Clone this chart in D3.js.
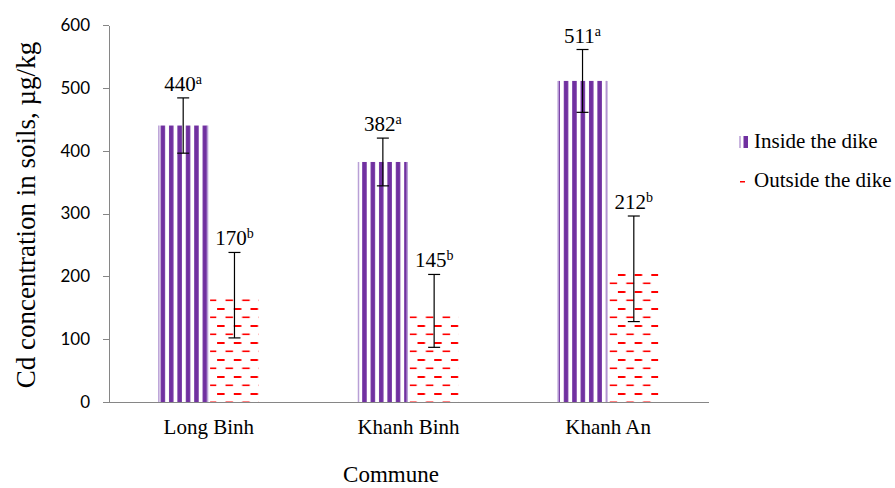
<!DOCTYPE html>
<html lang="en">
  <head>
    <meta charset="UTF-8" />
    <title>Cd concentration</title>
    <script src="https://d3js.org/d3.v7.min.js"></script>
    <style>
      body {
        margin: 0;
        background: #fff;
      }
      .serif {
        font-family: 'Liberation Serif', 'Times New Roman', serif;
        fill: #000;
      }
      .axis path,
      .axis line {
        stroke: #868686;
        shape-rendering: crispEdges;
      }
      .axis text {
        font-family: Lato, 'Open Sans', sans-serif;
        font-size: 17px;
        fill: #000;
      }
    </style>
  </head>
  <body></body>
  <script type="text/javascript">
    var width = 895,
      height = 488;

    // data
    var communes = ['Long Binh', 'Khanh Binh', 'Khanh An'];
    var seriesNames = ['Inside the dike', 'Outside the dike'];
    var insideValues = [440, 382, 511];
    var outsideValues = [170, 145, 212];
    var insideErrors = [44, 38, 50];
    var outsideErrors = [68, 58, 84];
    var insideLetters = ['a', 'a', 'a'];
    var outsideLetters = ['b', 'b', 'b'];
    var yTicks = [0, 100, 200, 300, 400, 500, 600];

    var rows = communes.map((c, i) => [
      { commune: c, series: 0, value: insideValues[i], err: insideErrors[i], letter: insideLetters[i] },
      { commune: c, series: 1, value: outsideValues[i], err: outsideErrors[i], letter: outsideLetters[i] }
    ]).flat();

    var plotLeft = 109,
      plotRight = 708,
      plotTop = 25,
      plotBottom = 402;

    var x = d3.scaleBand().domain(communes).range([plotLeft, plotRight]);
    var x1 = d3.scaleBand().domain([0, 1]).range([-50, 50]).paddingInner(0.05);
    var y = d3.scaleLinear().domain([0, 600]).range([plotBottom, plotTop]);

    var svg = d3
      .select('body')
      .append('svg')
      .attr('width', width)
      .attr('height', height);

    var defs = svg.append('defs');

    // wide vertical stripes
    var pIn = defs
      .append('pattern')
      .attr('id', 'inside')
      .attr('patternUnits', 'userSpaceOnUse')
      .attr('width', 8.4)
      .attr('height', 10);
    pIn.append('rect').attr('width', 8.4).attr('height', 10).attr('fill', '#fff');
    pIn.append('rect').attr('x', 1).attr('width', 4.5).attr('height', 10).attr('fill', '#7030A0');

    // dashed horizontal
    var pOut = defs
      .append('pattern')
      .attr('id', 'outside')
      .attr('patternUnits', 'userSpaceOnUse')
      .attr('width', 16.7)
      .attr('height', 17);
    pOut.append('rect').attr('width', 16.7).attr('height', 17).attr('fill', '#fff');
    pOut.append('rect').attr('x', 0).attr('y', 2).attr('width', 7.5).attr('height', 2).attr('fill', '#FF0000');
    pOut.append('rect').attr('x', 8.4).attr('y', 10.5).attr('width', 7.5).attr('height', 1.6).attr('fill', '#FF0000');

    // axes
    svg
      .append('g')
      .attr('class', 'axis')
      .attr('transform', `translate(${plotLeft},0)`)
      .call(d3.axisLeft(y).tickValues(yTicks).tickSize(6).tickPadding(13).tickSizeOuter(0));

    // bars
    var barX = d => x(d.commune) + x.bandwidth() / 2 + x1(d.series);

    svg
      .append('g')
      .selectAll('rect')
      .data(rows)
      .join('rect')
      .attr('x', barX)
      .attr('y', d => y(d.value))
      .attr('width', x1.bandwidth())
      .attr('height', d => y(0) - y(d.value))
      .attr('fill', d => (d.series === 0 ? 'url(#inside)' : 'url(#outside)'))
      .attr('stroke', d => (d.series === 0 ? '#b9a0d6' : 'none'))
      .attr('stroke-width', 1.5)
      .attr('stroke-dasharray', d => {
        var w = x1.bandwidth(),
          h = y(0) - y(d.value);
        return `0 ${w} ${h} ${w} ${h}`;
      });

    var xAxis = svg
      .append('g')
      .attr('class', 'axis')
      .attr('transform', `translate(0,${plotBottom})`)
      .call(d3.axisBottom(x).tickSize(0).tickPadding(0));
    xAxis.selectAll('text').remove();

    // category labels
    svg
      .append('g')
      .selectAll('text')
      .data(communes)
      .join('text')
      .attr('class', 'serif')
      .attr('x', d => x(d) + x.bandwidth() / 2)
      .attr('y', 434)
      .attr('text-anchor', 'middle')
      .style('font-size', '21px')
      .text(d => d);

    // error bars
    var cx = d => barX(d) + x1.bandwidth() / 2;
    var eb = svg.append('g').attr('stroke', '#000').attr('stroke-width', 1.2);
    eb.selectAll('line.v')
      .data(rows)
      .join('line')
      .attr('class', 'v')
      .attr('x1', cx)
      .attr('x2', cx)
      .attr('y1', d => y(d.value + d.err))
      .attr('y2', d => y(d.value - d.err));
    eb.selectAll('line.t')
      .data(rows)
      .join('line')
      .attr('class', 't')
      .attr('x1', d => cx(d) - 6)
      .attr('x2', d => cx(d) + 6)
      .attr('y1', d => y(d.value + d.err))
      .attr('y2', d => y(d.value + d.err));
    eb.selectAll('line.b')
      .data(rows)
      .join('line')
      .attr('class', 'b')
      .attr('x1', d => cx(d) - 6)
      .attr('x2', d => cx(d) + 6)
      .attr('y1', d => y(d.value - d.err))
      .attr('y2', d => y(d.value - d.err));

    // value labels with letters
    var lab = svg
      .append('g')
      .selectAll('text')
      .data(rows)
      .join('text')
      .attr('class', 'serif')
      .attr('x', cx)
      .attr('y', d => y(d.value + d.err) - 7)
      .attr('text-anchor', 'middle')
      .style('font-size', '21px');
    lab.append('tspan').text(d => d.value);
    lab
      .append('tspan')
      .attr('dy', -7)
      .style('font-size', '14px')
      .text(d => d.letter);

    // y title
    svg
      .append('text')
      .attr('class', 'serif')
      .attr('transform', 'translate(35,215) rotate(-90)')
      .attr('text-anchor', 'middle')
      .style('font-size', '27px')
      .text('Cd concentration in soils, µg/kg');

    // x title
    svg
      .append('text')
      .attr('class', 'serif')
      .attr('x', 391)
      .attr('y', 482)
      .attr('text-anchor', 'middle')
      .style('font-size', '23px')
      .text('Commune');

    // legend
    var legend = svg.append('g').attr('transform', 'translate(739,0)');
    var lg = legend
      .selectAll('g')
      .data(seriesNames)
      .join('g')
      .attr('transform', (d, i) => `translate(0,${148 + i * 39})`);
    lg.filter((d, i) => i === 0)
      .call(g => {
        g.append('rect').attr('x', 0).attr('y', -12).attr('width', 2).attr('height', 12).attr('fill', '#c9b5df');
        g.append('rect').attr('x', 4.5).attr('y', -12).attr('width', 4.5).attr('height', 12).attr('fill', '#7030A0');
      });
    lg.filter((d, i) => i === 1)
      .append('rect')
      .attr('x', 1)
      .attr('y', -6)
      .attr('width', 5)
      .attr('height', 1.5)
      .attr('fill', '#FF0000');
    lg.append('text')
      .attr('class', 'serif')
      .attr('x', 15)
      .attr('y', 0)
      .style('font-size', '21px')
      .text(d => d);
  </script>
</html>
